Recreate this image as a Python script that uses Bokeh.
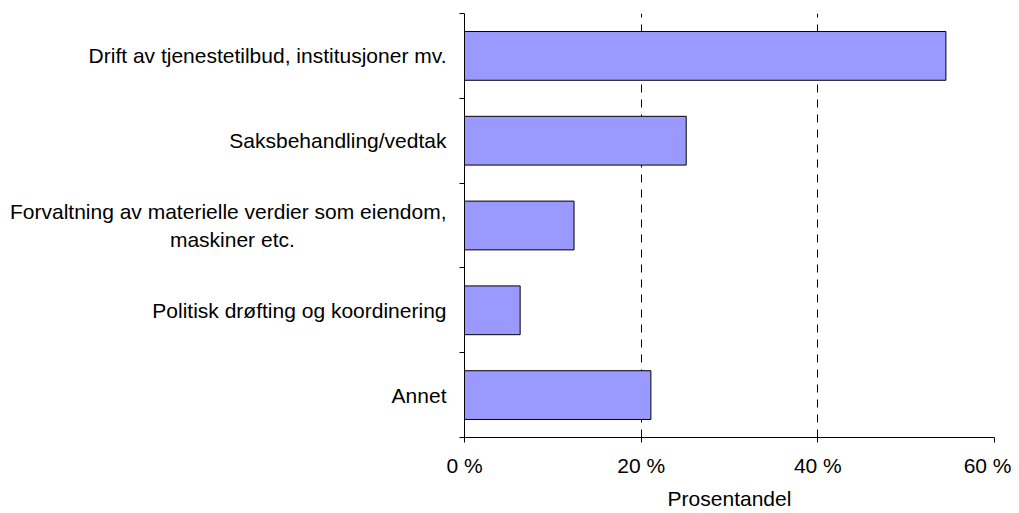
from bokeh.plotting import figure
from bokeh.models import FixedTicker, PrintfTickFormatter, Grid, ColumnDataSource, Range1d
from bokeh.embed import file_html
from bokeh.resources import INLINE

categories = ["Drift av tjenestetilbud, institusjoner mv.",
              "Saksbehandling/vedtak",
              "Forvaltning av materielle verdier som eiendom,\nmaskiner etc.",
              "Politisk drøfting og koordinering",
              "Annet"]
values = [54.5, 25.1, 12.4, 6.3, 21.1]
x_ticks = [0, 20, 40, 60]

n = len(categories)
ypos = [n - i - 0.5 for i in range(n)]
src = ColumnDataSource(dict(y=ypos, v=values, c=categories))

FONT = "Liberation Sans"
FS = "21px"

p = figure(width=1011, height=505, output_backend="svg", toolbar_location=None,
           x_range=Range1d(0, 60), y_range=Range1d(0, n),
           min_border_left=464, min_border_right=17, min_border_top=13, min_border_bottom=68)
p.frame_width = 530
p.frame_height = 424
p.outline_line_color = None
p.background_fill_color = "white"
p.border_fill_color = "white"

p.hbar(y="y", right="v", left=0, height=0.575, source=src,
       fill_color="#9999FF", line_color="black", line_width=1)

p.xgrid.visible = False
p.ygrid.visible = False
g = Grid(dimension=0, ticker=FixedTicker(ticks=[20, 40, 60]),
         grid_line_color="black", grid_line_dash="8 7", grid_line_width=1)
p.add_layout(g)

xa = p.xaxis[0]
xa.ticker = FixedTicker(ticks=x_ticks)
xa.formatter = PrintfTickFormatter(format="%d %%")
xa.axis_label = "Prosentandel"
xa.axis_label_text_font = FONT
xa.axis_label_text_font_style = "normal"
xa.axis_label_text_font_size = FS
xa.axis_label_text_color = "black"
xa.axis_label_standoff = 7
xa.major_label_text_font = FONT
xa.major_label_text_font_size = FS
xa.major_label_text_color = "black"
xa.major_label_standoff = 11
xa.major_tick_in = 0
xa.major_tick_out = 5
xa.minor_tick_out = 0
xa.minor_tick_in = 0
xa.axis_line_color = "black"
xa.major_tick_line_color = "black"

# centre the short second line of a two-line label under the first one
# (axis labels are right-aligned, so pad the short line with no-break spaces)
NBSP = "\u00a0"
def centred(label):
    lines = label.split("\n")
    if len(lines) < 2:
        return label
    pad = round((len(lines[0]) - len(lines[1])) * 0.8)
    return lines[0] + "\n" + lines[1] + NBSP * pad

ya = p.yaxis[0]
ya.ticker = FixedTicker(ticks=ypos, minor_ticks=list(range(n + 1)))
ya.major_label_overrides = {y: centred(c) for y, c in zip(ypos, categories)}
ya.major_label_text_font = FONT
ya.major_label_text_font_size = FS
ya.major_label_text_color = "black"
ya.major_label_standoff = 13
ya.major_tick_in = 0
ya.major_tick_out = 0
ya.minor_tick_in = 0
ya.minor_tick_out = 5
ya.minor_tick_line_color = "black"
ya.axis_line_color = "black"

open("out.html", "w").write(file_html(p, INLINE))
